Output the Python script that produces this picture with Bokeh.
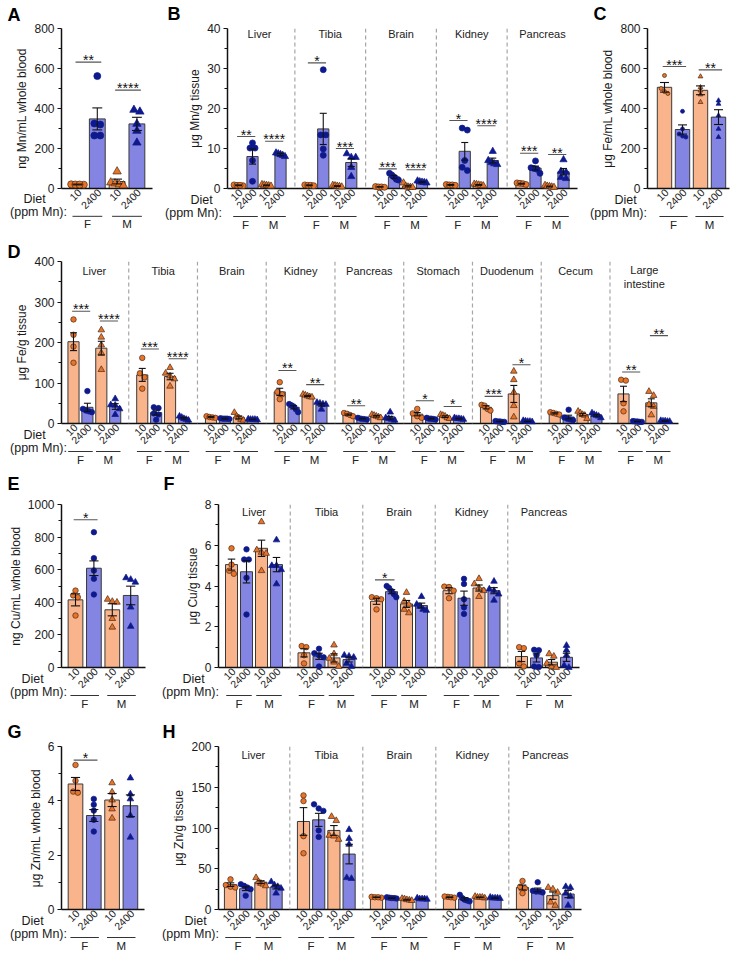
import math
from bokeh.plotting import figure
from bokeh.layouts import row, column
from bokeh.models import Range1d, FixedTicker, Span
from bokeh.core.properties import value
from bokeh.embed import file_html
from bokeh.resources import INLINE

FONT = "Liberation Sans"

# ---------------- data ----------------
DIET_LABELS = ["10", "2400", "10", "2400"]
SEX_LABELS = ["F", "M"]
ORGANS5 = ["Liver", "Tibia", "Brain", "Kidney", "Pancreas"]
ORGANS9 = ["Liver", "Tibia", "Brain", "Kidney", "Pancreas", "Stomach",
           "Duodenum", "Cecum", "Large\nintestine"]

# A: Mn whole blood (ng/mL)
A_MEAN = [20, 348, 35, 323]
A_SEM = [2, 55, 12, 33]
A_PTS = [[21, 20, 19, 20], [562, 325, 320, 265, 265], [85, 30, 25, 20, 15],
         [393, 384, 323, 288, 229]]
A_SIG = [(0, 0, 632, "**"), (0, 1, 492, "****")]

# B: Mn tissue (ug/g)
B_MEAN = [[0.8, 8.0, 0.8, 8.5], [0.8, 14.9, 0.6, 6.5], [0.4, 2.9, 0.6, 1.6],
          [0.9, 9.3, 0.9, 7.0], [1.2, 5.1, 0.5, 4.2]]
B_SEM = [[0.1, 1.9, 0.1, 0.3], [0.1, 3.9, 0.1, 1.0], [0.05, 0.35, 0.2, 0.1],
         [0.1, 2.2, 0.1, 0.6], [0.1, 0.5, 0.1, 0.8]]
B_PTS = [
    [[0.9, 0.8, 0.7, 0.8], [11.4, 10.1, 10.1, 7.0, 1.8], [1.0, 0.9, 0.8, 0.7, 0.6], [8.9, 8.7, 8.5, 8.3, 8.0]],
    [[0.9, 0.8, 0.8, 0.7], [29.7, 13.4, 13.4, 9.9, 8.3], [0.8, 0.7, 0.6, 0.5, 0.4], [8.7, 7.8, 7.8, 5.3, 3.0]],
    [[0.5, 0.4, 0.4, 0.3], [3.8, 3.4, 2.9, 2.3, 2.1], [1.4, 0.6, 0.4, 0.3, 0.3], [1.9, 1.7, 1.6, 1.5, 1.4]],
    [[1.0, 0.9, 0.9, 0.8], [15.1, 14.6, 7.0, 5.3, 4.5], [1.1, 1.0, 0.9, 0.8, 0.7], [9.3, 7.0, 6.5, 6.2, 6.0]],
    [[1.4, 1.3, 1.2, 1.0], [6.9, 5.2, 5.0, 4.8, 3.8], [0.8, 0.6, 0.5, 0.4, 0.3], [7.2, 4.3, 4.1, 2.8, 2.5]],
]
B_SIG = [(0, 0, 13.0, "**"), (0, 1, 11.8, "****"), (1, 0, 31.4, "*"), (1, 1, 10.0, "***"),
         (2, 0, 4.9, "***"), (2, 1, 4.7, "****"), (3, 0, 17.0, "*"), (3, 1, 15.7, "****"),
         (4, 0, 8.8, "***"), (4, 1, 8.5, "**")]

# C: Fe whole blood (ug/mL)
C_MEAN = [506, 295, 491, 357]
C_SEM = [24, 23, 22, 37]
C_PTS = [[565, 500, 485, 475], [386, 298, 272, 257, 262], [560, 506, 490, 470, 432],
         [440, 423, 365, 298, 257]]
C_SIG = [(0, 0, 610, "***"), (0, 1, 593, "**")]

# D: Fe tissue (ug/g)
D_MEAN = [[202, 40, 186, 42], [120, 27, 116, 13], [16, 12, 15, 10], [78, 40, 68, 46],
          [22, 12, 18, 14], [23, 12, 17, 12], [40, 5, 73, 5], [25, 16, 22, 20], [73, 5, 51, 6]]
D_SEM = [[22, 10, 17, 7], [16, 6, 8, 2], [1.5, 1, 3.5, 0.5], [9, 4, 1.5, 3],
         [1.5, 1, 2, 3.5], [4, 1, 2, 1], [4, 0.5, 21, 0.5], [1.5, 4.5, 3, 2], [19, 0.5, 10, 0.5]]
D_PTS = [
    [[257, 219, 190, 150], [80, 36, 32, 28, 30], [231, 213, 194, 174, 133], [61, 46, 45, 36, 22]],
    [[162, 124, 114, 86], [40, 38, 25, 22, 9], [138, 124, 117, 110, 92], [18, 15, 12, 10, 8]],
    [[18, 16, 15, 14], [13, 12, 12, 11, 12], [27, 18, 14, 10, 8], [11, 10, 10, 9, 10]],
    [[102, 78, 72, 60], [48, 45, 42, 35, 28], [72, 70, 68, 66, 65], [52, 50, 48, 47, 35]],
    [[26, 24, 21, 18], [14, 12, 11, 10], [22, 20, 18, 16, 14], [28, 14, 12, 10, 8]],
    [[36, 25, 18, 14], [14, 12, 12, 11, 10], [22, 20, 18, 14, 12], [14, 12, 12, 11, 10]],
    [[46, 44, 36, 32], [6, 5, 5, 4, 4], [129, 108, 77, 44, 16], [7, 6, 5, 5, 4]],
    [[28, 26, 24, 22], [34, 15, 12, 10, 8], [30, 26, 22, 20, 12], [26, 22, 20, 18, 14]],
    [[108, 106, 50, 30], [6, 5, 5, 4, 4], [79, 69, 47, 42, 21], [7, 6, 6, 5, 5]],
]
D_SIG = [(0, 0, 277, "***"), (0, 1, 253, "****"), (1, 0, 184, "***"), (1, 1, 160, "****"),
         (3, 0, 131, "**"), (3, 1, 96, "**"), (4, 0, 44, "**"), (5, 0, 56, "*"), (5, 1, 42, "*"),
         (6, 0, 67, "***"), (6, 1, 145, "*"), (8, 0, 127, "**"), (8, 1, 217, "**")]

# E: Cu whole blood (ng/mL)
E_MEAN = [415, 609, 354, 442]
E_SEM = [37, 45, 37, 57]
E_PTS = [[472, 442, 431, 319], [830, 671, 595, 544, 448], [418, 405, 400, 300, 247],
         [550, 540, 523, 370, 252]]
E_SIG = [(0, 0, 906, "*")]

# F: Cu tissue (ug/g)
F_MEAN = [[5.05, 4.7, 5.85, 5.05], [0.72, 0.55, 0.47, 0.39], [3.25, 3.72, 3.12, 3.04],
          [3.77, 3.4, 3.9, 3.77], [0.54, 0.47, 0.26, 0.5]]
F_SEM = [[0.27, 0.55, 0.4, 0.35], [0.2, 0.15, 0.2, 0.12], [0.15, 0.1, 0.17, 0.12],
         [0.15, 0.35, 0.15, 0.15], [0.25, 0.2, 0.13, 0.2]]
F_PTS = [
    [[5.85, 5.05, 4.75, 4.6], [5.8, 5.3, 5.3, 4.4, 2.6], [7.15, 5.77, 5.65, 5.6, 4.75], [6.26, 5.0, 5.0, 4.8, 4.1]],
    [[1.05, 1.0, 0.6, 0.2], [0.92, 0.7, 0.6, 0.5, 0.05], [1.1, 0.67, 0.45, 0.26, 0.05], [0.6, 0.55, 0.5, 0.2, 0.05]],
    [[3.45, 3.4, 3.35, 2.85], [4.0, 3.9, 3.75, 3.6, 3.45], [3.68, 3.25, 3.1, 2.85, 2.68], [3.48, 3.1, 3.0, 2.85, 2.8]],
    [[3.97, 3.95, 3.77, 3.4], [4.35, 4.1, 3.35, 2.95, 2.63], [4.36, 4.1, 3.9, 3.77, 3.48], [4.23, 3.85, 3.77, 3.6, 3.3]],
    [[1.0, 0.95, 0.2, 0.05], [0.87, 0.85, 0.6, 0.05, 0.02], [0.67, 0.55, 0.2, 0.05, 0.0], [1.08, 0.85, 0.6, 0.1, 0.0]],
]
F_SIG = [(2, 0, 4.3, "*")]

# G: Zn whole blood (ug/mL)
G_MEAN = [4.62, 3.46, 4.03, 3.82]
G_SEM = [0.24, 0.22, 0.24, 0.4]
G_PTS = [[5.32, 4.74, 4.34, 4.3], [4.07, 3.86, 3.64, 3.3, 2.87], [4.66, 4.32, 4.03, 3.7, 3.36],
         [4.84, 4.25, 4.07, 3.46, 2.66]]
G_SIG = [(0, 0, 5.5, "*")]

# H: Zn tissue (ug/g)
H_MEAN = [[30.5, 25.5, 33.5, 27.5], [108, 110, 97, 68], [15, 14, 12, 13], [15, 13, 15, 14],
          [27, 24, 17, 19]]
H_SEM = [[2.2, 2.3, 1.7, 2.3], [17, 8, 6, 12], [0.4, 0.4, 0.6, 0.4], [0.4, 1.5, 0.4, 0.4],
         [3, 2.3, 4.5, 4.5]]
H_PTS = [
    [[37, 30, 28, 27], [31, 29, 27, 25, 17], [39, 34, 32, 31, 29], [34, 30, 28, 26, 20]],
    [[140, 133, 90, 69], [129, 124, 121, 97, 89], [114, 109, 91, 90, 86], [98, 87, 80, 39, 38]],
    [[15.5, 15, 14.5, 15], [14.5, 15, 14, 13.5, 14], [13.5, 13, 12, 11.5, 11], [13, 14, 13, 12.5, 13]],
    [[15.5, 16, 15, 14.5], [18, 14, 12, 11, 10], [16, 15, 15, 14, 15], [15, 14, 14, 13.5, 14]],
    [[35, 28, 26, 20], [33.5, 23, 22, 22, 21], [27, 25, 21, 9, 5], [28, 27, 20, 16, 5]],
]
H_SIG = []

# ---------------- styles ----------------
BAR_FILL = ["#F9B48C", "#8484E2", "#F9B48C", "#8484E2"]
PT_FILL = ["#E8742A", "#0E1A8C", "#E8742A", "#0E1A8C"]
PT_LINE = ["#4a2a16", "#0E1A8C", "#4a2a16", "#0E1A8C"]
MARKER = ["circle", "circle", "triangle", "triangle"]


def swarm(vals, ppy, size, bar_px):
    """Horizontal offsets (px) so that points at similar heights sit side by side."""
    order = sorted(range(len(vals)), key=lambda i: -vals[i])
    clusters = []
    for i in order:
        yy = vals[i] * ppy
        if clusters and abs(clusters[-1][-1][1] - yy) < size * 0.8:
            clusters[-1].append((i, yy))
        else:
            clusters.append([(i, yy)])
    res = [0.0] * len(vals)
    for cl in clusters:
        m = len(cl)
        if m == 1:
            continue
        step = min(size * 0.85, 0.8 * bar_px / (m - 1))
        for j, (i, _) in enumerate(cl):
            res[i] = (j - (m - 1) / 2) * step
    return res


def build(letter, tissues, means, sems, pts, sigs, ytop, ymaj, ymin, ylabel, geo,
          msize, tis_off, diet_x, ppm_x, letter_xy):
    cx, cy, cw, ch, fl, fr, ft, fb, b0, u, bwpx = geo
    x0 = -(b0 - fl) / u
    x1 = x0 + (fr - fl) / u
    ppy = (fb - ft) / ytop
    dx = lambda px: x0 + (px - fl) / u
    dy = lambda py: (fb - py) / ppy
    bw = bwpx / u if bwpx else 0.0
    n = len(tissues)

    p = figure(width=cw, height=ch, x_range=Range1d(x0, x1), y_range=Range1d(0, ytop),
               output_backend="svg", toolbar_location=None,
               min_border_left=fl - cx, min_border_right=cx + cw - fr,
               min_border_top=ft - cy, min_border_bottom=cy + ch - fb)
    p.outline_line_color = None
    p.xgrid.visible = False
    p.ygrid.visible = False
    p.background_fill_color = "white"
    p.border_fill_color = "white"

    yax = p.yaxis[0]
    yax.ticker = FixedTicker(ticks=ymaj, minor_ticks=ymin)
    yax.axis_label = ylabel
    yax.axis_label_text_font = FONT
    yax.axis_label_text_font_size = "12px"
    yax.axis_label_text_font_style = "normal"
    yax.axis_label_text_color = "#1a1a1a"
    yax.axis_label_standoff = 2
    yax.major_label_text_font = FONT
    yax.major_label_text_font_size = "12px"
    yax.major_label_text_color = "#1a1a1a"
    yax.major_label_standoff = 3
    yax.axis_line_width = 1.5
    yax.axis_line_color = "#111111"
    yax.major_tick_out = 4
    yax.major_tick_in = 0
    yax.minor_tick_out = 3
    yax.minor_tick_in = 0
    yax.major_tick_line_width = 1.2
    yax.minor_tick_line_width = 1.0
    yax.major_tick_line_color = "#111111"
    yax.minor_tick_line_color = "#111111"

    # x axis: baseline + slanted diet labels as tick labels
    tick_pos, overrides = [], {}
    for g in range(n):
        for k in range(4):
            t = round(g * bw + k + 2.0 / u, 4)
            tick_pos.append(t)
            overrides[t] = DIET_LABELS[k]
    xax = p.xaxis[0]
    xax.ticker = FixedTicker(ticks=tick_pos, minor_ticks=[])
    xax.major_label_overrides = overrides
    xax.major_label_orientation = math.pi / 4
    xax.major_label_text_font = FONT
    xax.major_label_text_font_size = "10.5px"
    xax.major_label_text_color = "#222222"
    xax.major_label_standoff = 2
    xax.major_tick_in = 0
    xax.major_tick_out = 0
    xax.axis_line_width = 1.5
    xax.axis_line_color = "#111111"
    xax.major_tick_line_color = None
    xax.minor_tick_line_color = None

    for g in range(n - 1):
        p.add_layout(Span(location=g * bw + 3 + (bw - 3) / 2, dimension="height",
                          line_color="#a6a6a6", line_dash="4 3", line_width=1.2))

    bar_px = 0.8 * u
    bx, btop, bfill = [], [], []
    ex, elo, ehi = [], [], []
    pts_by = {m: {"x": [], "y": [], "f": [], "l": []} for m in ["circle", "triangle"]}
    for g in range(n):
        for k in range(4):
            xb = g * bw + k
            bx.append(xb)
            btop.append(means[g][k])
            bfill.append(BAR_FILL[k])
            ex.append(xb)
            elo.append(means[g][k] - sems[g][k])
            ehi.append(means[g][k] + sems[g][k])
            vals = pts[g][k]
            offs = swarm(vals, ppy, msize, bar_px)
            d = pts_by[MARKER[k]]
            for v, o in zip(vals, offs):
                d["x"].append(xb + o / u)
                d["y"].append(v)
                d["f"].append(PT_FILL[k])
                d["l"].append(PT_LINE[k])

    p.vbar(x=bx, top=btop, bottom=0, width=0.8, fill_color=bfill,
           line_color="#3a3a3a", line_width=1)
    for m, d in pts_by.items():
        p.scatter(x=d["x"], y=d["y"], marker=m,
                  size=msize * (1.2 if m == "triangle" else 1.0),
                  fill_color=d["f"], line_color=d["l"], line_width=0.7, level="overlay")
    cap = 0.25
    p.segment(x0=ex, y0=elo, x1=ex, y1=ehi, line_color="#111111", line_width=1.1, level="overlay")
    p.segment(x0=[x - cap for x in ex] * 2, y0=elo + ehi, x1=[x + cap for x in ex] * 2,
              y1=elo + ehi, line_color="#111111", line_width=1.1, level="overlay")

    # significance bars
    if sigs:
        sx0, sx1, sy, tx, ty, tt = [], [], [], [], [], []
        for g, pair, yv, txt in sigs:
            xa = g * bw + 2 * pair
            sx0.append(xa - 0.1)
            sx1.append(xa + 1 + 0.2)
            sy.append(yv)
            tx.append(xa + 0.55)
            ty.append(dy(fb - yv * ppy - 2))
            tt.append(txt)
        p.segment(x0=sx0, y0=sy, x1=sx1, y1=sy, line_color="#555555", line_width=1.1)
        p.text(x=tx, y=ty, text=tt, text_font=value(FONT), text_font_size="14px",
               text_align="center", text_baseline="alphabetic", text_color="#111111")

    # tissue names
    if n > 1:
        tx, ty, tt = [], [], []
        for g, name in enumerate(tissues):
            tx.append(g * bw + 1.5)
            extra = 6.5 * name.count("\n")
            ty.append(dy(ft + tis_off + extra))
            tt.append(name)
        p.text(x=tx, y=ty, text=tt, text_font=value(FONT), text_font_size="11px",
               text_align="center", text_baseline="middle", text_color="#222222",
               text_line_height=1.2)

    # sex group lines & labels
    lx0, lx1, ly, sxt, syt, stt = [], [], [], [], [], []
    half = (0.45 * u + 6) / u
    for g in range(n):
        for s in range(2):
            c = g * bw + 2 * s + 0.5
            lx0.append(c - half)
            lx1.append(c + half)
            ly.append(dy(fb + 28))
            sxt.append(c)
            syt.append(dy(fb + 36))
            stt.append(SEX_LABELS[s])
    p.segment(x0=lx0, y0=ly, x1=lx1, y1=ly, line_color="#333333", line_width=1, level="overlay")
    p.text(x=sxt, y=syt, text=stt, text_font=value(FONT), text_font_size="11.5px",
           text_align="center", text_baseline="middle", text_color="#222222", level="overlay")

    # Diet (ppm Mn):
    p.text(x=[dx(diet_x), dx(ppm_x)], y=[dy(fb + 11), dy(fb + 24)],
           text=["Diet", "(ppm Mn):"], text_font=value(FONT), text_font_size="12.5px",
           text_align="center", text_baseline="middle", text_color="#1a1a1a", level="overlay")

    # panel letter
    p.text(x=[dx(letter_xy[0])], y=[dy(letter_xy[1])], text=[letter], text_font=value(FONT),
           text_font_size="18px", text_font_style="bold", text_align="left",
           text_baseline="middle", text_color="#000000", level="overlay")
    return p


def r(a, b, s):
    out = []
    v = a
    while v <= b + 1e-9:
        out.append(round(v, 6))
        v += s
    return out


pA = build("A", ["Blood"], [A_MEAN], [A_SEM], [A_PTS], A_SIG, 800, r(0, 800, 200), r(100, 700, 200),
           "ng Mn/mL whole blood", (0, 0, 165, 240, 61, 152, 27, 188, 77, 19.8, 0),
           7, 0, 34, 38, (7, 13))
pB = build("B", ORGANS5, B_MEAN, B_SEM, B_PTS, B_SIG, 40, r(0, 40, 10), r(5, 35, 10),
           "μg Mn/g tissue", (165, 0, 423, 240, 227, 577, 28, 188, 238, 14.0, 70.75),
           6, 5, 201, 193, (167, 13))
pC = build("C", ["Blood"], [C_MEAN], [C_SEM], [C_PTS], C_SIG, 800, r(0, 800, 200), r(100, 700, 200),
           "μg Fe/mL whole blood", (588, 0, 153, 240, 647, 729, 28, 188, 664, 18.0, 0),
           4, 0, 625, 618, (593, 13))
pD = build("D", ORGANS9, D_MEAN, D_SEM, D_PTS, D_SIG, 400, r(0, 400, 100), r(50, 350, 100),
           "μg Fe/g tissue", (0, 240, 741, 234, 61, 678, 261, 423, 73, 13.9, 68.75),
           5.5, 9, 34, 38, (7, 251))
pE = build("E", ["Blood"], [E_MEAN], [E_SEM], [E_PTS], E_SIG, 1000, r(0, 1000, 200), r(100, 900, 200),
           "ng Cu/mL whole blood", (0, 474, 158, 248, 61, 145, 504, 667, 75, 18.4, 0),
           5.5, 0, 32, 38, (7, 483))
pF = build("F", ORGANS5, F_MEAN, F_SEM, F_PTS, F_SIG, 8, r(0, 8, 2), r(1, 7, 2),
           "μg Cu/g tissue", (158, 474, 583, 248, 218, 579, 504, 667, 231, 15.0, 72.5),
           5.5, 7, 193, 190, (163, 483))
pG = build("G", ["Blood"], [G_MEAN], [G_SEM], [G_PTS], G_SIG, 6, r(0, 6, 2), r(1, 5, 2),
           "μg Zn/mL whole blood", (0, 722, 158, 244, 61, 144, 746, 909, 75, 18.3, 0),
           5.5, 0, 32, 38, (7, 731))
pH = build("H", ORGANS5, H_MEAN, H_SEM, H_PTS, H_SIG, 200, r(0, 200, 50), r(25, 175, 50),
           "μg Zn/g tissue", (158, 722, 583, 244, 218, 581, 746, 909, 230, 15.2, 73),
           5.5, 8, 195, 190, (162, 731))

layout = column(row(pA, pB, pC), pD, row(pE, pF), row(pG, pH))
open("out.html", "w").write(file_html(layout, INLINE))
